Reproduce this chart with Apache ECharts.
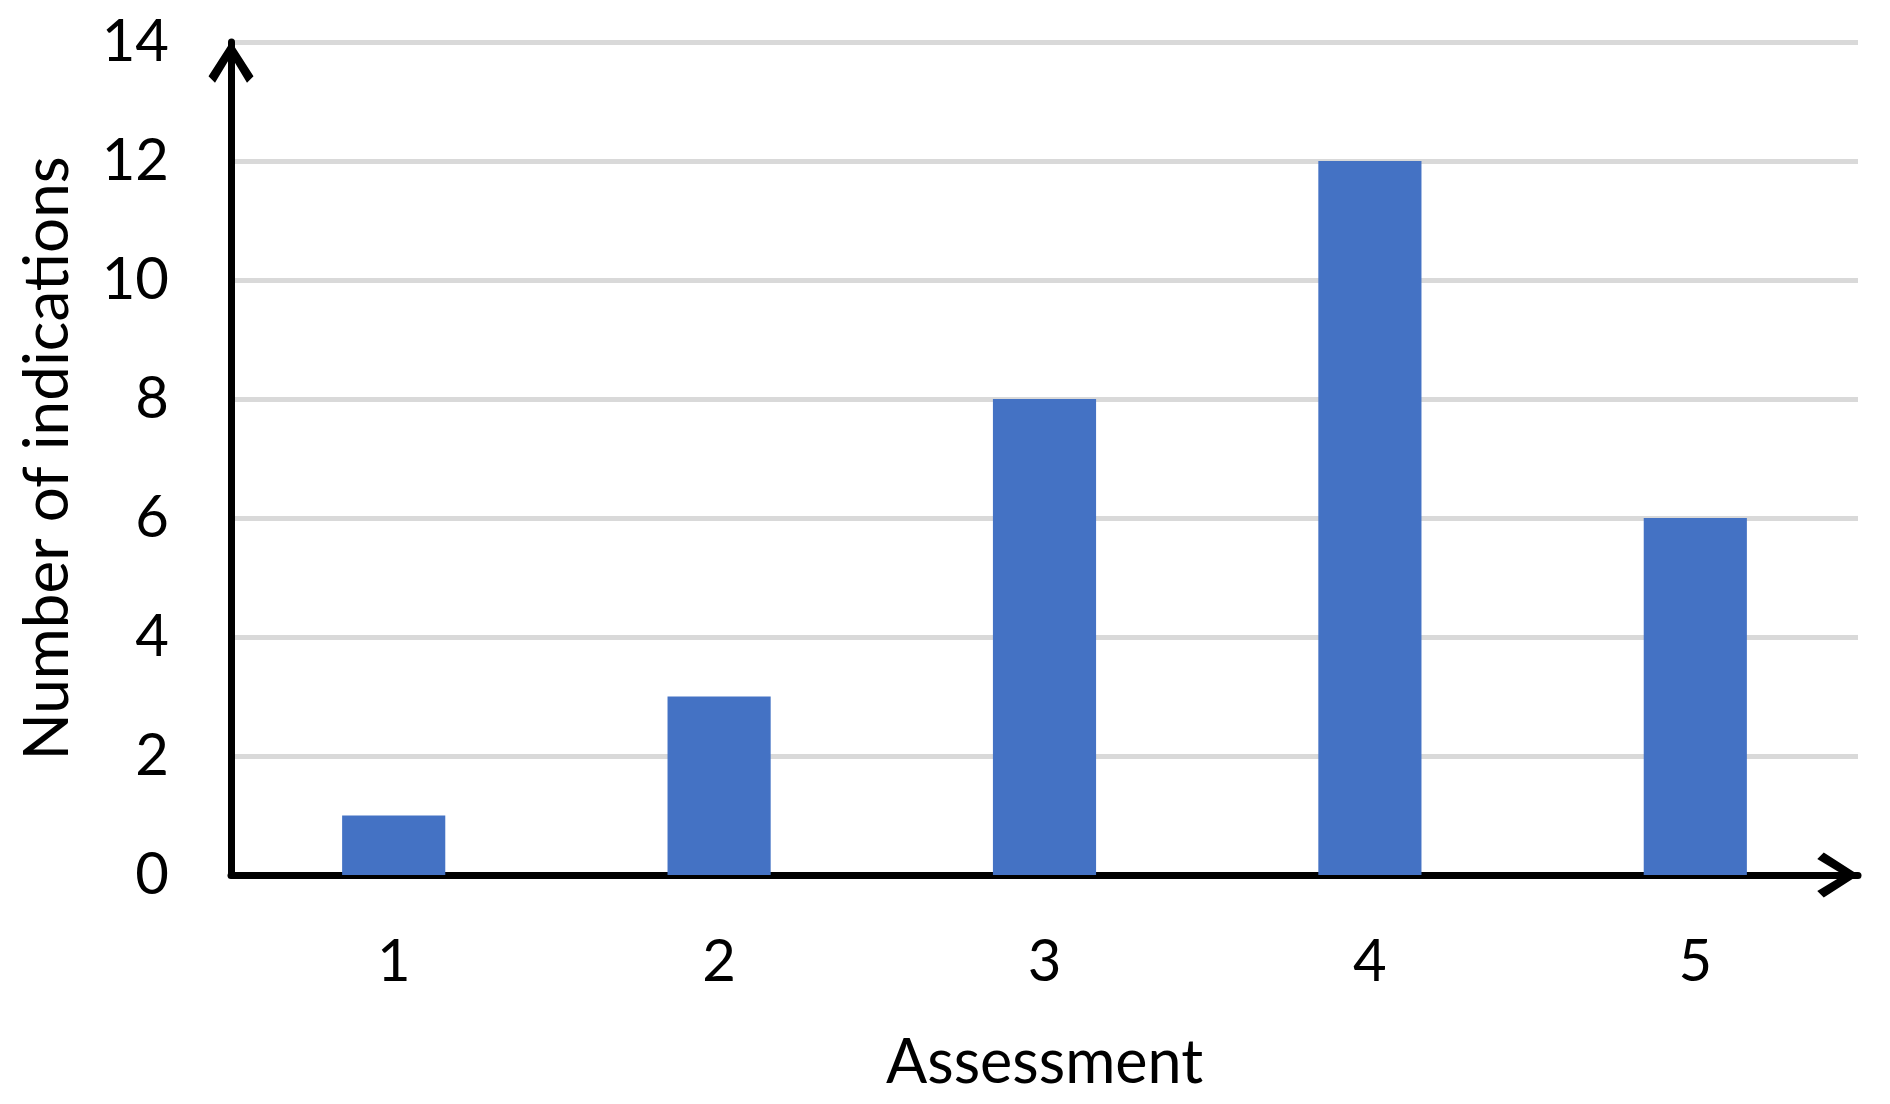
<!DOCTYPE html>
<html>
<head>
<meta charset="utf-8">
<script src="https://cdn.jsdelivr.net/npm/echarts@6/dist/echarts.min.js"></script>
<style>
html,body{margin:0;padding:0;background:#fff;}
#chart{width:1890px;height:1104px;}
</style>
</head>
<body>
<div id="chart"></div>
<script>
const categories = ['1', '2', '3', '4', '5'];
const indications = [1, 3, 8, 12, 6];
const yTicks = { min: 0, max: 14, interval: 2 };
const xAxisTitle = 'Assessment';
const yAxisTitle = 'Number of indications';

const FONT = 'Lato';
const chevron = 'path://M22.5,0 L45,35 L38.5,41.5 L22.5,15 L6.5,41.5 L0,35 Z';

const chart = echarts.init(document.getElementById('chart'));
chart.setOption({
  animation: false,
  backgroundColor: '#ffffff',
  grid: { left: 231, right: 32, top: 42, bottom: 229, containLabel: false },
  xAxis: {
    type: 'category',
    data: categories,
    name: xAxisTitle,
    nameLocation: 'middle',
    nameGap: 158,
    nameTextStyle: { fontFamily: FONT, fontSize: 61, color: '#000' },
    axisLine: {
      show: true,
      lineStyle: { color: '#000', width: 7 },
      symbol: ['none', chevron],
      symbolSize: [45, 41.5],
      symbolOffset: [0, -20]
    },
    axisTick: { show: false },
    axisLabel: { fontFamily: FONT, fontSize: 58, color: '#000', margin: 58 },
    splitLine: { show: false }
  },
  yAxis: {
    type: 'value',
    min: yTicks.min,
    max: yTicks.max,
    interval: yTicks.interval,
    name: yAxisTitle,
    nameLocation: 'middle',
    nameGap: 152,
    nameRotate: 90,
    nameTextStyle: { fontFamily: FONT, fontSize: 62, color: '#000' },
    axisLine: {
      show: true,
      lineStyle: { color: '#000', width: 7 },
      symbol: ['none', chevron],
      symbolSize: [45, 41.5],
      symbolOffset: [0, -20]
    },
    axisTick: { show: false },
    axisLabel: { fontFamily: FONT, fontSize: 58, color: '#000', margin: 62 },
    splitLine: { show: true, lineStyle: { color: '#d9d9d9', width: 5 } }
  },
  series: [{
    type: 'bar',
    data: indications,
    barWidth: '31.7%',
    itemStyle: { color: '#4472c4' }
  }]
});
</script>
</body>
</html>
